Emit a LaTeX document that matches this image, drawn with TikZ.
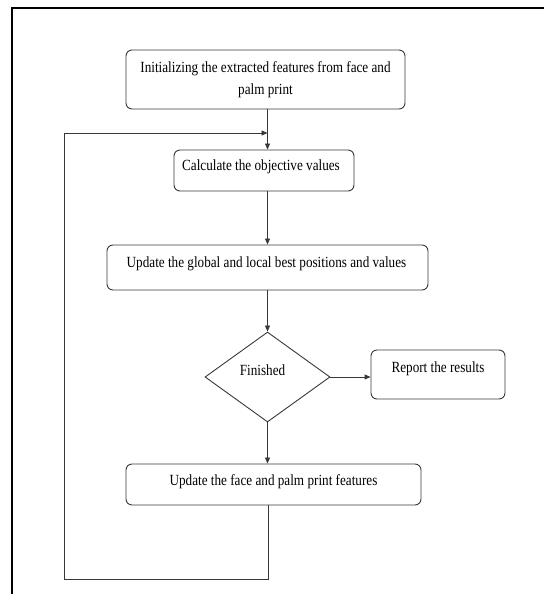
\documentclass[tikz,border=0pt]{standalone}
\usepackage{fontspec}
\setmainfont{Liberation Serif}
\newfontfamily\condfont[FakeStretch=0.85]{Liberation Serif}
\usetikzlibrary{shapes.geometric,arrows.meta}
\definecolor{linegray}{HTML}{383838}
\tikzset{
  x=1pt,y=1pt,
  stepbox/.style={draw=linegray,line width=0.9pt,rounded corners=6pt,inner sep=0pt,
    font=\condfont\fontsize{15.5}{22.5}\selectfont,align=center},
  decision/.style={draw=linegray,line width=0.9pt,diamond,inner sep=0pt,
    minimum width=125pt,minimum height=90pt,aspect=1.39},
  conn/.style={draw=linegray,line width=0.9pt,-{Triangle[length=6pt,width=5pt]}},
  plainconn/.style={draw=linegray,line width=0.9pt},
  lbl/.style={font=\condfont\fontsize{15.5}{22.5}\selectfont,inner sep=0pt}
}
\begin{document}
\begin{tikzpicture}
\useasboundingbox (0,0) rectangle (544,594);
% outer frame
\draw[line width=2pt] (12,0) -- (12,585.5) -- (544,585.5);
% nodes
\node[stepbox,minimum width=279pt,minimum height=59pt] (b1) at (265.5,514.5)
  {Initializing the extracted features from face and\\palm print};
\node[stepbox,minimum width=180pt,minimum height=41pt] (b2) at (264,423.5) {};
\node[lbl] (t2) at (261,427) {Calculate the objective values};
\node[stepbox,minimum width=321pt,minimum height=45pt] (b3) at (267.5,326.5) {};
\node[lbl] (t3) at (266.5,330) {Update the global and local best positions and values};
\node[decision] (d) at (267.5,217) {};
\node[lbl] (td) at (262.5,224) {Finished};
\node[stepbox,minimum width=134pt,minimum height=49pt] (b4) at (438,219.5) {};
\node[lbl] (t4) at (438,225) {Report the results};
\node[stepbox,minimum width=295pt,minimum height=41pt] (b5) at (273.5,109.5) {};
\node[lbl] (t5) at (273.5,112.5) {Update the face and palm print features};
% helper coordinates
\coordinate (ax) at (267.5,0);
\coordinate (j) at (267.5,461);
\coordinate (c1) at (268,15);
\coordinate (c2) at (64,15);
\coordinate (c3) at (64,461);
% connectors
\draw[conn] (b1.south -| ax) -- (b2.north -| ax);
\draw[conn] (b2.south -| ax) -- (b3.north -| ax);
\draw[conn] (b3.south -| ax) -- (d.north);
\draw[conn] (d.east) -- (b4.west |- d.east);
\draw[conn] (d.south) -- (b5.north -| ax);
\draw[plainconn] (b5.south -| c1) -- (c1) -- (c2) -- (c3);
\draw[conn] (c3) -- (j);
\end{tikzpicture}
\end{document}
